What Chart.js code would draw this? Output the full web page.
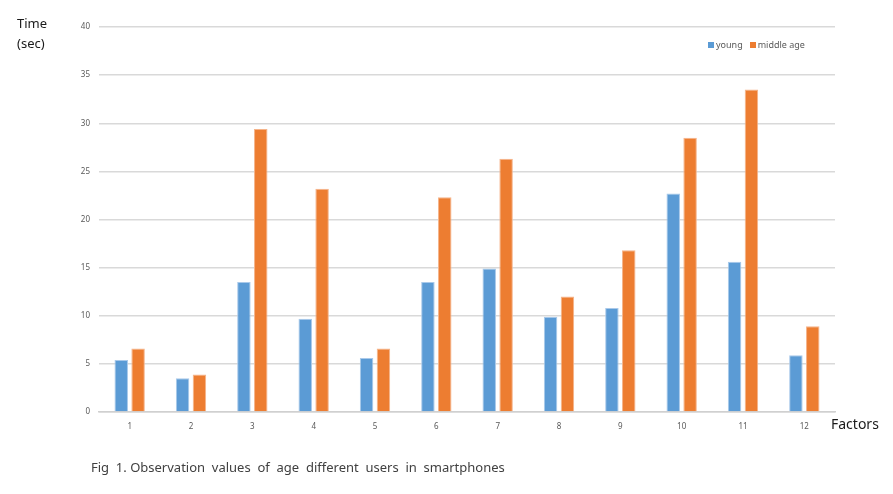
<!DOCTYPE html>
<html>
<head>
<meta charset="utf-8">
<script src="https://cdn.jsdelivr.net/npm/chart.js@4.4.1/dist/chart.umd.min.js"></script>
<style>
    body { margin: 0; background: #fff; }
    #wrap { position: relative; width: 893px; height: 494px; font-family: "Noto Sans", "Noto Sans CJK KR", sans-serif; }
    #myChart { position: absolute; left: 0; top: 0; }
    .txt { position: absolute; white-space: pre; color: #1a1a1a; }
    #yTitle { left: 17px; top: 13px; font-size: 13px; line-height: 20px; }
    #xTitle { left: 831px; top: 414px; font-size: 14px; }
    #caption { left: 91px; top: 458px; font-size: 13px; color: #404040; }
    #legend { position: absolute; left: 708px; top: 38px; font-size: 9px; color: #595959; display: flex; gap: 7px; }
    #legend span.box { display: inline-block; width: 6px; height: 6px; margin-right: 2px; vertical-align: 0px; }
</style>
</head>
<body>
<div id="wrap">
    <canvas id="myChart" width="893" height="494"></canvas>
    <div class="txt" id="yTitle">Time<br>(sec)</div>
    <div class="txt" id="xTitle">Factors</div>
    <div class="txt" id="caption">Fig  1. Observation  values  of  age  different  users  in  smartphones</div>
    <div id="legend"></div>
</div>
<script>
const factors = ["1", "2", "3", "4", "5", "6", "7", "8", "9", "10", "11", "12"];
const seriesNames = ["young", "middle age"];
const youngValues = [5.4, 3.5, 13.5, 9.7, 5.6, 13.5, 14.9, 9.9, 10.8, 22.7, 15.6, 5.9];
const middleValues = [6.6, 3.9, 29.4, 23.2, 6.6, 22.3, 26.3, 12.0, 16.8, 28.5, 33.5, 8.9];
const yTicks = [0, 5, 10, 15, 20, 25, 30, 35, 40];

const colors = ["#5b9bd5", "#ed7d31"];
const edgeColors = ["#a9c9ea", "#f5b48a"];

window.onload = () => {
    buildLegend();
    createChart();
};

function buildLegend() {
    const legend = document.getElementById('legend');
    seriesNames.forEach((name, i) => {
        const item = document.createElement('div');
        item.innerHTML = `<span class="box" style="background:${colors[i]}"></span>${name}`;
        legend.appendChild(item);
    });
}

function createChart() {
    const ctx = document.getElementById("myChart").getContext("2d");

    new Chart(ctx, {
        type: "bar",
        data: {
            labels: factors,
            datasets: [
                {
                    label: seriesNames[0],
                    data: youngValues,
                    backgroundColor: colors[0],
                    borderColor: edgeColors[0],
                    borderWidth: 1,
                    categoryPercentage: 0.55,
                    barPercentage: 0.8,
                },
                {
                    label: seriesNames[1],
                    data: middleValues,
                    backgroundColor: colors[1],
                    borderColor: edgeColors[1],
                    borderWidth: 1,
                    categoryPercentage: 0.55,
                    barPercentage: 0.8,
                },
            ],
        },
        options: {
            responsive: false,
            animation: false,
            maintainAspectRatio: false,
            layout: { padding: { top: 27, right: 58, left: 0, bottom: 0 } },
            plugins: {
                legend: { display: false },
                tooltip: { enabled: false },
            },
            scales: {
                x: {
                    grid: { display: false, drawTicks: false },
                    border: { display: true, color: "#d0d0d0", width: 1.5 },
                    ticks: {
                        color: "#595959",
                        font: { size: 8, family: "Noto Sans" },
                        padding: 10,
                        maxRotation: 0,
                    },
                    afterFit: (scale) => { scale.height = 82; },
                },
                y: {
                    min: 0,
                    max: 40,
                    afterBuildTicks: (scale) => {
                        scale.ticks = yTicks.map(v => ({ value: v }));
                    },
                    grid: { color: "#d9d9d9", lineWidth: 1.5, drawTicks: false },
                    border: { display: false },
                    ticks: {
                        color: "#595959",
                        font: { size: 8, family: "Noto Sans" },
                        padding: 9,
                    },
                    afterFit: (scale) => { scale.width = 99; },
                },
            },
        },
    });
}
</script>
</body>
</html>
